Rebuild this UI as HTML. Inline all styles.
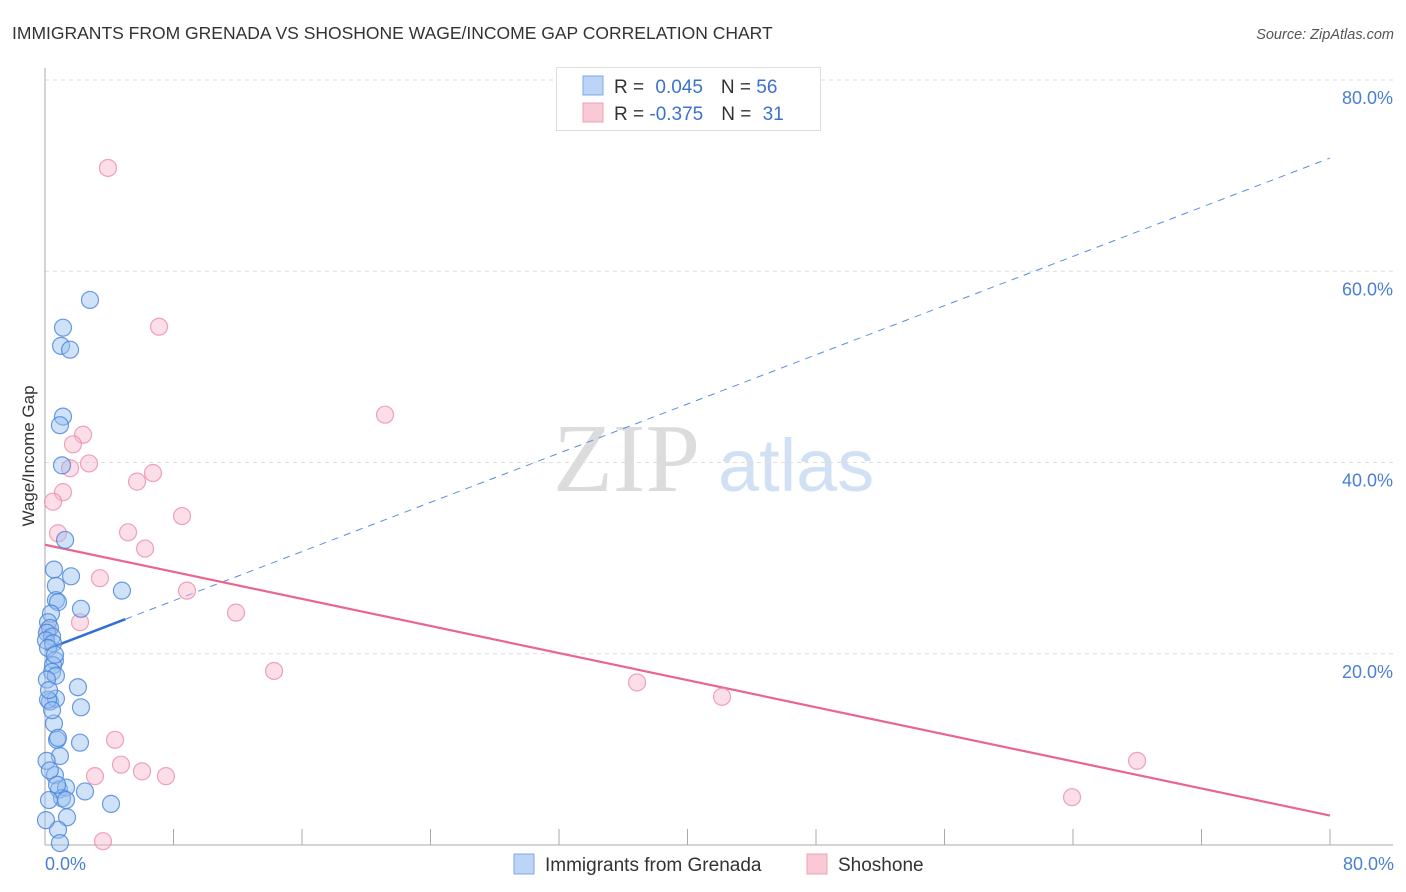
<!DOCTYPE html>
<html><head><meta charset="utf-8">
<style>
body{margin:0;background:#fff;font-family:"Liberation Sans",sans-serif;}
svg{display:block}
</style></head>
<body>
<svg id="chart" width="1406" height="892" viewBox="0 0 1406 892">
<text x="12" y="39" font-size="17.5" fill="#333">IMMIGRANTS FROM GRENADA VS SHOSHONE WAGE/INCOME GAP CORRELATION CHART</text>
<text x="1394" y="39" font-size="14.5" fill="#555" font-style="italic" text-anchor="end">Source: ZipAtlas.com</text>
<g>
<text x="553" y="491" font-family="Liberation Serif,serif" font-size="98" fill="#d4d4d4" opacity="0.8">ZIP</text>
<text x="718" y="491" font-size="74" fill="#c6daf2" opacity="0.8">atlas</text>
</g>
<g id="grid"></g>
<g id="axes"></g>
<g id="lines"></g>
<g id="pts"></g>
<text transform="translate(34,456) rotate(-90)" font-size="17" fill="#333" text-anchor="middle">Wage/Income Gap</text>
<text x="45" y="870" font-size="18" fill="#4a7fd4">0.0%</text>
<text x="1394" y="870" font-size="18" fill="#4a7fd4" text-anchor="end">80.0%</text>
<g>
<rect x="556.5" y="67.5" width="264" height="63" fill="#fff" stroke="#ddd"/>
<rect x="583" y="76" width="20" height="19" fill="#bcd5f7" stroke="#7ea9e6"/>
<rect x="583" y="103" width="20" height="19" fill="#f9c9d6" stroke="#eea2b8"/>
<text x="614" y="93" font-size="19" fill="#333">R = <tspan fill="#3b72d0" dx="6">0.045</tspan><tspan fill="#333" dx="18">N = </tspan><tspan fill="#3b72d0">56</tspan></text>
<text x="614" y="120" font-size="19" fill="#333">R = <tspan fill="#3b72d0">-0.375</tspan><tspan fill="#333" dx="18">N = </tspan><tspan fill="#3b72d0" dx="6">31</tspan></text>
</g>
<g>
<rect x="514" y="854" width="20" height="20" fill="#bcd5f7" stroke="#7ea9e6"/>
<text x="545" y="871" font-size="19" fill="#333">Immigrants from Grenada</text>
<rect x="807" y="854" width="20" height="20" fill="#f9c9d6" stroke="#eea2b8"/>
<text x="838" y="871" font-size="19" fill="#333">Shoshone</text>
</g>
</svg>
<script>
const blueX=[2.80,1.12,1.00,1.56,1.12,0.93,1.06,1.25,0.56,1.62,0.68,0.68,0.81,2.24,4.79,0.37,0.19,0.31,0.12,0.44,0.06,0.50,0.19,0.62,0.50,0.44,0.68,0.12,2.05,2.24,0.31,0.68,0.56,0.75,0.81,2.18,0.93,0.62,0.87,1.31,1.06,1.31,2.49,4.11,1.37,0.81,0.93,0.19,0.62,0.25,0.44,0.10,0.30,0.75,0.06,0.25];
const blueY=[57.0,54.1,52.2,51.8,44.8,43.9,39.7,31.9,28.8,28.1,27.1,25.6,25.4,24.7,26.6,24.2,23.3,22.7,22.2,21.8,21.4,21.1,20.6,19.3,18.8,18.1,17.7,17.3,16.5,14.4,15.0,15.3,12.7,11.0,11.2,10.7,9.3,7.3,5.8,6.0,4.9,4.7,5.6,4.3,2.9,1.6,0.2,15.2,19.9,16.2,14.1,8.8,7.8,6.3,2.6,4.7];
const pinkX=[3.92,7.10,21.17,2.37,1.74,2.74,1.56,1.12,0.50,6.72,5.73,8.53,0.81,5.17,6.23,3.42,8.84,11.89,2.18,0.19,14.26,36.86,42.15,4.36,4.73,3.11,6.04,7.53,3.61,63.94,67.99];
const pinkY=[70.8,54.2,45.0,42.9,41.9,39.9,39.4,36.9,35.9,38.9,38.0,34.4,32.6,32.7,31.0,27.9,26.6,24.3,23.3,22.5,18.2,17.0,15.5,11.0,8.4,7.2,7.7,7.2,0.4,5.0,8.8];
const yTicks=[20,40,60,80];
const yTickLabels=["20.0%","40.0%","60.0%","80.0%"];
const xTicks=[0,8,16,24,32,40,48,56,64,72,80];
const blueTrend=[20.4,0.643,5.0];   // intercept, slope, solid-until x
const pinkTrend=[31.4,-0.354];
const NS="http://www.w3.org/2000/svg";
const sx=v=>45+v*(1285/80);
const sy=v=>845-v*(765/80);
function mk(tag,attrs,parent){const e=document.createElementNS(NS,tag);for(const k in attrs)e.setAttribute(k,attrs[k]);document.getElementById(parent).appendChild(e);return e;}
yTicks.forEach((t,i)=>{
  const g=mk('line',{x1:45,x2:1393,y1:sy(t),y2:sy(t),stroke:'#ddd','stroke-dasharray':'4,4'},'grid');
  
  
  const l=mk('text',{x:1393,y:sy(t)+24,'font-size':18,fill:'#4a7fd4','text-anchor':'end'},'grid');
  l.textContent=yTickLabels[i];
  
  
});
const ax=mk('line',{x1:45,x2:45,y1:68,y2:845,stroke:'#aaa'},'axes');


const bx=mk('line',{x1:45,x2:1393,y1:845,y2:845,stroke:'#aaa'},'axes');


xTicks.forEach(t=>{
  const k=mk('line',{x1:sx(t),x2:sx(t),y1:829,y2:845,stroke:'#aaa'},'axes');
  
  
});
const bs=mk('line',{x1:sx(0),y1:sy(blueTrend[0]),x2:sx(blueTrend[2]),y2:sy(blueTrend[0]+blueTrend[1]*blueTrend[2]),stroke:'#2f6fd6','stroke-width':2.5},'lines');


const bd=mk('line',{x1:sx(blueTrend[2]),y1:sy(blueTrend[0]+blueTrend[1]*blueTrend[2]),x2:sx(80),y2:sy(blueTrend[0]+blueTrend[1]*80),stroke:'#5a8de0','stroke-width':1,'stroke-dasharray':'7,6'},'lines');


const pl=mk('line',{x1:sx(0),y1:sy(pinkTrend[0]),x2:sx(80),y2:sy(pinkTrend[0]+pinkTrend[1]*80),stroke:'#e8668f','stroke-width':2.2},'lines');


pinkX.forEach((x,i)=>{
  const c=mk('circle',{cx:sx(x),cy:sy(pinkY[i]),r:8.5,fill:'rgba(246,182,201,0.45)',stroke:'rgba(236,140,170,0.8)','stroke-width':1.2},'pts');
  
  
});
blueX.forEach((x,i)=>{
  const c=mk('circle',{cx:sx(x),cy:sy(blueY[i]),r:8.5,fill:'rgba(150,190,240,0.45)',stroke:'rgba(70,130,220,0.8)','stroke-width':1.2},'pts');
  
  
});
</script>
</body></html>
